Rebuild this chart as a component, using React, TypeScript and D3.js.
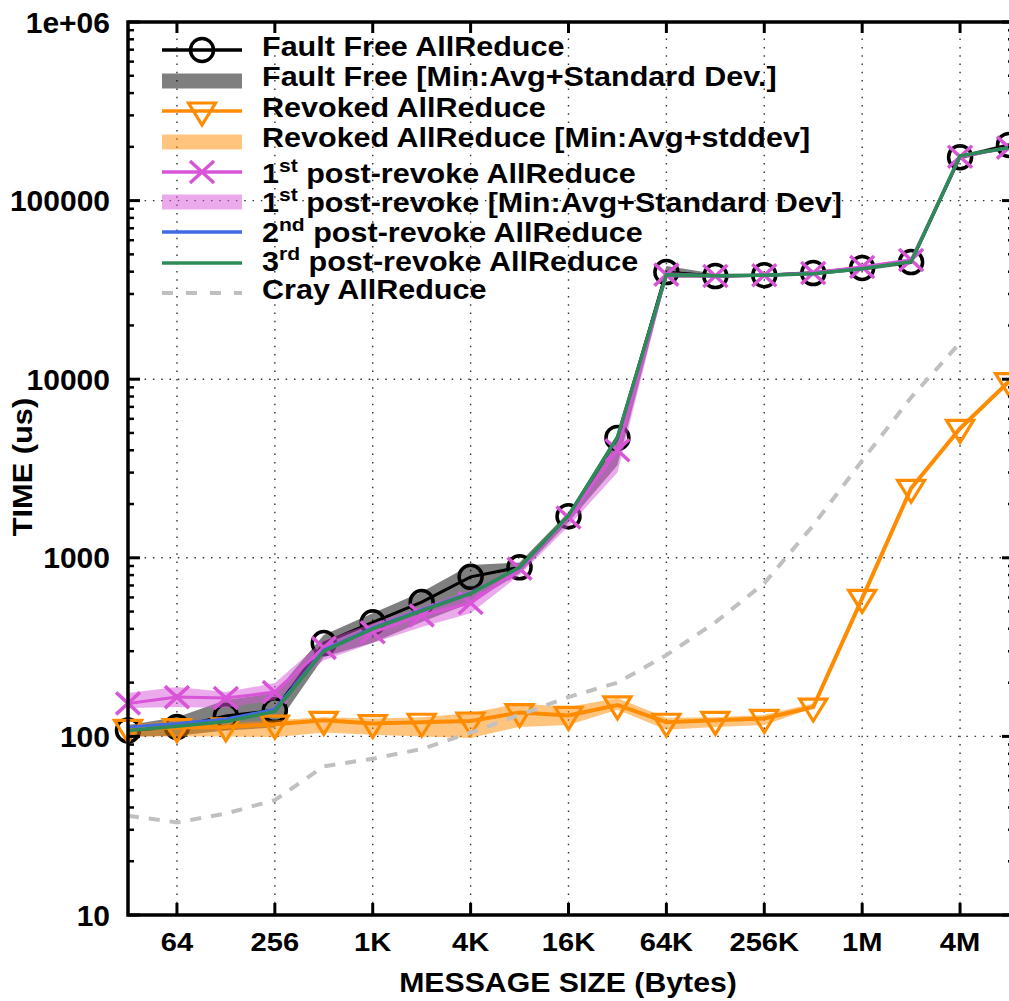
import * as d3 from 'd3'

// message sizes in bytes (32 .. 8M)
const sizes = [32, 64, 128, 256, 512, 1024, 2048, 4096, 8192, 16384, 32768, 65536, 131072, 262144, 524288, 1048576, 2097152, 4194304, 8388608]

// fault free allreduce (us)
const faultFree = [108, 113, 130, 140, 333, 435, 565, 782, 885, 1710, 4690, 39800, 37800, 38200, 39300, 42000, 45300, 175000, 205000]
const faultFreeMin = [100, 101, 108, 112, 278, 335, 437, 558, 820, 1580, 3300, 37000, 37000, 37500, 38300, 40500, 44000, 170000, 198000]
const faultFreeHi = [116, 128, 160, 175, 370, 490, 643, 912, 940, 1800, 4850, 43000, 39000, 39000, 40300, 43000, 46500, 180000, 210000]

// revoked allreduce
const revoked = [111, 112, 113, 117, 123, 118, 120, 122, 136, 131, 150, 120, 123, 126, 146, 593, 2450, 5300, 9700]
const revokedMin = [100, 100, 100, 99, 105, 102, 100, 98, 113, 116, 141, 109, 113, 116, 144, 580, 2400, 5200, 9500]
const revokedHi = [116, 123, 119, 123, 128, 126, 128, 135, 153, 146, 164, 127, 128, 132, 153, 605, 2500, 5400, 9900]

// 1st post-revoke allreduce
const post1 = [153, 166, 164, 177, 313, 383, 476, 558, 870, 1680, 4000, 38500, 37800, 38200, 39300, 42500, 46500, 176000, 198000]
const post1Min = [144, 146, 144, 160, 267, 333, 410, 490, 800, 1500, 3000, 37000, 37000, 37500, 38300, 41000, 45000, 172000, 195000]
const post1Hi = [175, 189, 177, 199, 345, 430, 530, 660, 900, 1750, 4200, 40000, 38600, 39000, 40300, 43500, 47500, 180000, 202000]

// 2nd and 3rd post-revoke allreduce
const post2 = [113, 118, 125, 142, 305, 405, 510, 635, 880, 1720, 4750, 38500, 38000, 38200, 39000, 41500, 45500, 178000, 198000]
const post3 = [108, 114, 121, 138, 300, 400, 505, 630, 885, 1720, 4750, 38500, 38000, 38200, 39000, 41500, 45500, 178000, 198000]

// cray allreduce (32 .. 4M)
const cray = [36, 33, 37, 44, 68, 75, 85, 105, 132, 166, 200, 285, 435, 720, 1520, 3500, 7900, 16000]

const xTicks = [64, 256, 1024, 4096, 16384, 65536, 262144, 1048576, 4194304]
const xTickLabels = ['64', '256', '1K', '4K', '16K', '64K', '256K', '1M', '4M']
const yTicks = [10, 100, 1000, 10000, 100000, 1000000]
const yTickLabels = ['10', '100', '1000', '10000', '100000', '1e+06']

const FONT = '"Liberation Sans", Arial, Helvetica, sans-serif'
const ORANGE = '#ff8c00'
const ORCHID = '#d855d8'
const BLUE = '#4169e1'
const GREEN = '#2e8b57'
const CRAY = '#c0c0c0'

const left = 128, right = 1009, top = 22, bottom = 915, frameRight = 1014

const x = d3.scaleLog().base(2).domain([32, 8388608]).range([left, right])
const y = d3.scaleLog().domain([10, 1e6]).range([bottom, top])

type P = [number, number]
const pts = (vals: number[]): P[] => vals.map((v, i) => [sizes[i], v])

const line = d3.line<P>().x(d => x(d[0])).y(d => y(d[1]))
const band = (lo: number[], hi: number[]) =>
  d3.area<number>()
    .x((_, i) => x(sizes[i]))
    .y0((_, i) => y(lo[i]))
    .y1((_, i) => y(hi[i]))(lo) || ''

const circle = (cx: number, cy: number, key: any) => (
  <circle key={key} cx={cx} cy={cy} r={11.5} fill="none" stroke="#000" strokeWidth={3.5} />
)
const triangle = (cx: number, cy: number, key: any) => (
  <path key={key} d={`M${cx - 13.5},${cy - 8}L${cx + 13.5},${cy - 8}L${cx},${cy + 14}Z`}
    fill="none" stroke={ORANGE} strokeWidth={3.2} strokeLinejoin="miter" />
)
const cross = (cx: number, cy: number, key: any) => (
  <path key={key} d={`M${cx - 12},${cy - 11}L${cx + 12},${cy + 11}M${cx - 12},${cy + 11}L${cx + 12},${cy - 11}`}
    stroke={ORCHID} strokeWidth={3.5} />
)

const legendRows = [
  { y: 50, base: 56, kind: 'line', color: '#000', marker: circle, text: [['', 'Fault Free AllReduce']] },
  { y: 81, base: 86, kind: 'band', color: 'rgba(0,0,0,0.5)', text: [['', 'Fault Free [Min:Avg+Standard Dev.]']] },
  { y: 111, base: 117, kind: 'line', color: ORANGE, marker: triangle, text: [['', 'Revoked AllReduce']] },
  { y: 142, base: 147, kind: 'band', color: 'rgba(255,140,0,0.5)', text: [['', 'Revoked AllReduce [Min:Avg+stddev]']] },
  { y: 172, base: 183, kind: 'line', color: ORCHID, marker: cross, text: [['', '1'], ['sup', 'st'], ['', ' post-revoke AllReduce']] },
  { y: 202, base: 212, kind: 'band', color: 'rgba(216,85,216,0.5)', text: [['', '1'], ['sup', 'st'], ['', ' post-revoke [Min:Avg+Standard Dev]']] },
  { y: 232, base: 242, kind: 'line', color: BLUE, text: [['', '2'], ['sup', 'nd'], ['', ' post-revoke AllReduce']] },
  { y: 263, base: 271, kind: 'line', color: GREEN, text: [['', '3'], ['sup', 'rd'], ['', ' post-revoke AllReduce']] },
  { y: 293, base: 299, kind: 'dash', color: CRAY, text: [['', 'Cray AllReduce']] },
]

export default function App() {
  const minorTicks: number[] = []
  for (let d = 10; d < 1e6; d *= 10) for (let k = 2; k <= 9; k++) minorTicks.push(d * k)

  return (
    <svg width={1009} height={1001} style={{ position: 'absolute', left: 0, top: 0, background: '#fff' }}
      fontFamily={FONT} fontWeight="bold">
      {/* grid */}
      <g stroke="#333" strokeWidth={1.4} strokeDasharray="1.5 6.8">
        {xTicks.map(t => <line key={'gx' + t} x1={x(t)} x2={x(t)} y1={top} y2={bottom} />)}
        {yTicks.slice(1, -1).map(t => <line key={'gy' + t} x1={left} x2={frameRight} y1={y(t)} y2={y(t)} />)}
      </g>

      {/* fault free */}
      <path d={line(pts(faultFree)) || ''} fill="none" stroke="#000" strokeWidth={3} />
      {faultFree.map((v, i) => circle(x(sizes[i]), y(v), 'c' + i))}
      <path d={band(faultFreeMin, faultFreeHi)} fill="#000" fillOpacity={0.5} />

      {/* revoked */}
      <path d={line(pts(revoked)) || ''} fill="none" stroke={ORANGE} strokeWidth={4} />
      {revoked.map((v, i) => triangle(x(sizes[i]), y(v), 't' + i))}
      <path d={band(revokedMin, revokedHi)} fill={ORANGE} fillOpacity={0.5} />

      {/* 1st post-revoke */}
      <path d={line(pts(post1)) || ''} fill="none" stroke={ORCHID} strokeWidth={3} />
      {post1.map((v, i) => cross(x(sizes[i]), y(v), 'x' + i))}
      <path d={band(post1Min, post1Hi)} fill={ORCHID} fillOpacity={0.5} />

      {/* 2nd, 3rd post-revoke */}
      <path d={line(pts(post2)) || ''} fill="none" stroke={BLUE} strokeWidth={3} />
      <path d={line(pts(post3)) || ''} fill="none" stroke={GREEN} strokeWidth={3.5} />

      {/* cray */}
      <path d={line(pts(cray)) || ''} fill="none" stroke={CRAY} strokeWidth={4} strokeDasharray="11 10" />

      {/* frame and ticks */}
      <g stroke="#000">
        <rect x={left} y={top} width={frameRight - left} height={bottom - top} fill="none" strokeWidth={3.5} />
        {xTicks.map(t => (
          <g key={'tx' + t} strokeWidth={3}>
            <line x1={x(t)} x2={x(t)} y1={bottom} y2={bottom - 12} />
            <line x1={x(t)} x2={x(t)} y1={top} y2={top + 11} />
          </g>
        ))}
        {yTicks.map(t => (
          <g key={'ty' + t} strokeWidth={3}>
            <line x1={left} x2={left + 12} y1={y(t)} y2={y(t)} />
            <line x1={frameRight} x2={frameRight - 12} y1={y(t)} y2={y(t)} />
          </g>
        ))}
        {minorTicks.map(t => (
          <g key={'my' + t} strokeWidth={2.5}>
            <line x1={left} x2={left + 6} y1={y(t)} y2={y(t)} />
            <line x1={frameRight} x2={frameRight - 6} y1={y(t)} y2={y(t)} />
          </g>
        ))}
      </g>

      {/* tick labels */}
      {yTicks.map((t, i) => (
        <text key={'ly' + t} x={110} y={y(t) + 10.5} textAnchor="end" fontSize={30}>{yTickLabels[i]}</text>
      ))}
      {xTicks.map((t, i) => (
        <text key={'lx' + t} transform={`translate(${x(t)},951) scale(1.12,1)`} textAnchor="middle" fontSize={26}>
          {xTickLabels[i]}
        </text>
      ))}

      {/* axis titles */}
      <text transform="translate(568,992) scale(1.12,1)" textAnchor="middle" fontSize={27}>MESSAGE SIZE (Bytes)</text>
      <text transform="translate(32,467) rotate(-90) scale(1.14,1)" textAnchor="middle" fontSize={27}>TIME (us)</text>

      {/* legend */}
      {legendRows.map((r, i) => (
        <g key={'lg' + i}>
          {r.kind === 'line' && <line x1={162} x2={242} y1={r.y} y2={r.y} stroke={r.color} strokeWidth={3.5} />}
          {r.kind === 'dash' && <line x1={162} x2={242} y1={r.y} y2={r.y} stroke={r.color} strokeWidth={4} strokeDasharray="11 13" />}
          {r.kind === 'band' && <rect x={162} y={r.y - 7.5} width={80} height={15} fill={r.color} />}
          {r.marker && r.marker(202, r.y, 'm' + i)}
          <text transform={`translate(262,${r.base}) scale(1.11,1)`} fontSize={27.5}>
            {r.text.map(([k, s], j) => {
              const prev = j > 0 ? r.text[j - 1][0] : ''
              const dy = k === 'sup' ? -11 : prev === 'sup' ? 11 : 0
              return <tspan key={j} dy={dy} fontSize={k === 'sup' ? 19 : 27.5}>{s}</tspan>
            })}
          </text>
        </g>
      ))}
    </svg>
  )
}
